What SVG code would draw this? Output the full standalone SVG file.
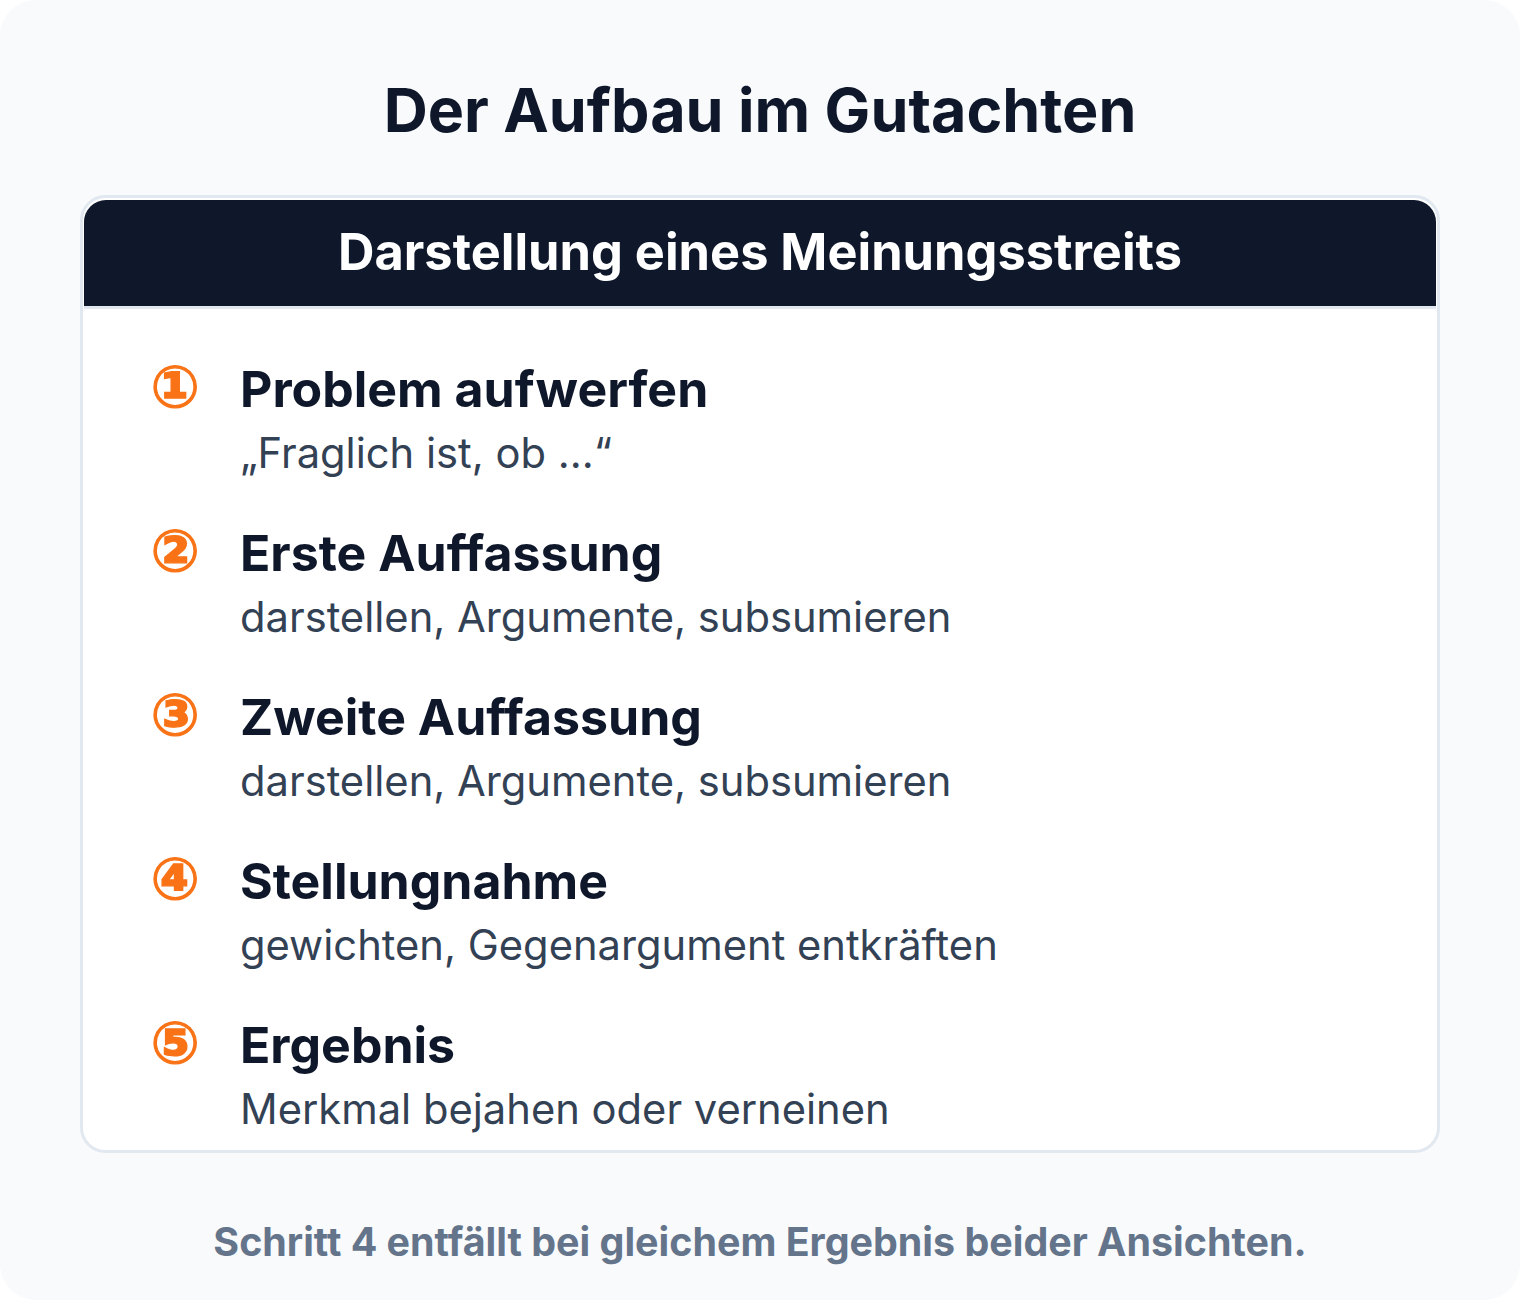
<svg xmlns="http://www.w3.org/2000/svg" width="1520" height="1300" viewBox="0 0 1520 1300">
<style>
.t{font-family:Inter,"Noto Sans","DejaVu Sans",sans-serif}
.title{font-size:61px;font-weight:700;fill:#0f172a}
.hdr{font-size:50.5px;font-weight:700;fill:#ffffff}
.num{font-size:58px;font-weight:700;fill:#f97316;stroke:#f97316;stroke-width:1.3px;font-family:"DejaVu Sans",Inter,sans-serif}
.h{font-size:50px;font-weight:700;fill:#0f172a}
.s{font-size:41.7px;font-weight:400;fill:#334155}
.foot{font-size:39.4px;font-weight:700;fill:#64748b}
</style>
<rect x="0" y="0" width="1520" height="1300" rx="36" fill="#f8fafc"/>
<text class="t title" x="760" y="132" text-anchor="middle">Der Aufbau im Gutachten</text>
<g id="card">
<rect x="81.5" y="196.5" width="1357" height="955" rx="24" fill="#ffffff" stroke="#e2e8f0" stroke-width="3"/>
<path d="M84 306 V222 a22 22 0 0 1 22 -22 H1414 a22 22 0 0 1 22 22 V306 Z" fill="#0f172a"/>
<rect x="84" y="306" width="1352" height="3" fill="#e2e8f0"/>
<text class="t hdr" x="760" y="270" text-anchor="middle">Darstellung eines Meinungsstreits</text>
</g>
<g id="step1">
<text class="num" x="175" y="407" text-anchor="middle">①</text>
<text class="t h" x="240" y="407">Problem aufwerfen</text>
<text class="t s" x="240" y="468">„Fraglich ist, ob ...“</text>
</g>
<g id="step2">
<text class="num" x="175" y="571" text-anchor="middle">②</text>
<text class="t h" x="240" y="571">Erste Auffassung</text>
<text class="t s" x="240" y="632">darstellen, Argumente, subsumieren</text>
</g>
<g id="step3">
<text class="num" x="175" y="735" text-anchor="middle">③</text>
<text class="t h" x="240" y="735">Zweite Auffassung</text>
<text class="t s" x="240" y="796">darstellen, Argumente, subsumieren</text>
</g>
<g id="step4">
<text class="num" x="175" y="899" text-anchor="middle">④</text>
<text class="t h" x="240" y="899">Stellungnahme</text>
<text class="t s" x="240" y="960">gewichten, Gegenargument entkräften</text>
</g>
<g id="step5">
<text class="num" x="175" y="1063" text-anchor="middle">⑤</text>
<text class="t h" x="240" y="1063">Ergebnis</text>
<text class="t s" x="240" y="1124">Merkmal bejahen oder verneinen</text>
</g>
<g id="connectors"/>
<text class="t foot" x="760" y="1256" text-anchor="middle">Schritt 4 entfällt bei gleichem Ergebnis beider Ansichten.</text>
</svg>
